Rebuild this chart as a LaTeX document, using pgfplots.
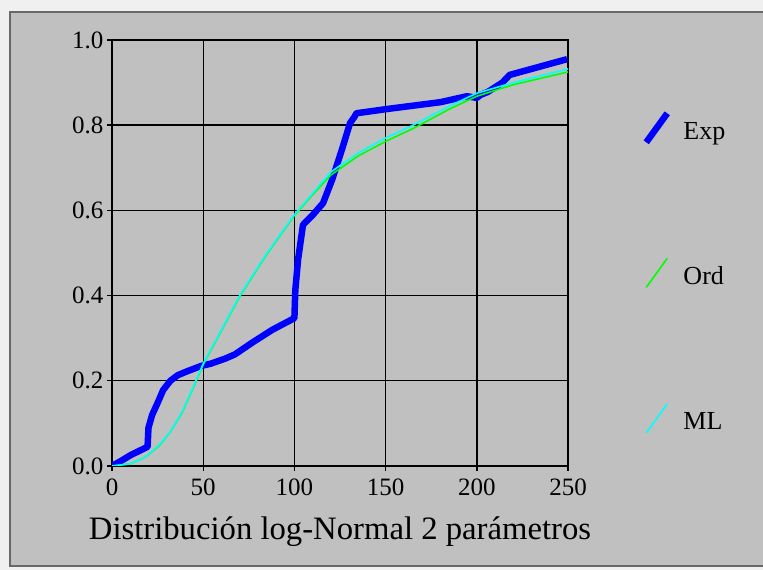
\documentclass[border=0pt]{standalone}
\usepackage{pgfplots}
\pgfplotsset{compat=1.18}
\usepackage{fontspec}
\setmainfont{Liberation Serif}
\definecolor{outerbg}{RGB}{240,240,240}
\definecolor{panel}{RGB}{192,192,192}
\definecolor{panelborder}{RGB}{105,105,105}
\definecolor{expblue}{RGB}{0,0,255}
\definecolor{ordgreen}{RGB}{0,255,0}
\definecolor{mlcyan}{RGB}{0,255,255}
\begin{document}
\begin{tikzpicture}[x=1pt,y=1pt]
\path[use as bounding box, fill=outerbg] (0,0) rectangle (763,570);
\filldraw[fill=panel, draw=panelborder, line width=1.5pt] (10,4) rectangle (775,558);
\begin{axis}[
  at={(112pt,104pt)}, anchor=south west,
  scale only axis, width=456pt, height=426pt,
  xmin=0, xmax=250, ymin=0, ymax=1,
  xtick={0,50,...,250}, ytick={0,0.2,0.4,0.6,0.8,1.0},
  grid=major, grid style={black, line width=1.4pt},
  axis line style={black, line width=1.6pt},
  tick style={black, line width=1.4pt}, tick align=outside, major tick length=5pt,
  tick pos=left,
  /pgf/number format/assume math mode=true,
  yticklabel style={/pgf/number format/.cd, fixed, fixed zerofill, precision=1},
  xticklabel style={yshift=-4pt, /pgf/number format/.cd, fixed, precision=0},
  ticklabel style={font=\fontsize{25}{25}\selectfont, text=black},
  xlabel={Distribución log-Normal 2 parámetros},
  xlabel style={font=\fontsize{32.7}{33}\selectfont, at={(axis description cs:0.5,0)}, anchor=center, yshift=-66pt},
  legend image code/.code={\draw[#1] (0pt,-6pt) -- (21pt,23pt);},
  legend style={draw=none, fill=none, at={(axis description cs:1.164,0.836)}, anchor=north west,
    row sep=105pt, font=\fontsize{26}{26}\selectfont, inner sep=0pt,
    nodes={inner sep=2pt}, /tikz/every odd column/.append style={column sep=11pt}},
  legend cell align=left,
]
\addplot[expblue, line width=6.5pt, line join=round] coordinates {
(0,0) (5,0.012) (10,0.025) (18,0.042) (19.5,0.045) (20,0.09) (22,0.12) (25,0.148)
(28,0.178) (32,0.2) (36,0.213) (41,0.222) (49,0.235) (54,0.24) (62,0.252)
(67.4,0.262) (77,0.29) (88,0.32) (100,0.347) (100.5,0.413) (102,0.484)
(104.7,0.566) (110,0.589) (115.7,0.617) (120.6,0.671) (126,0.742) (130.5,0.805)
(133,0.82) (134,0.828) (150.8,0.838) (180,0.854) (194.6,0.868) (200,0.864)
(202,0.871) (206,0.878) (214,0.90) (218,0.918) (249.5,0.955)
};
\addlegendentry{\raisebox{10pt}{Exp}}
\addplot[ordgreen, line width=1.6pt] coordinates {
(0,0) (10,0.005) (18,0.02) (26,0.048) (32,0.08) (38,0.122) (44,0.178) (50,0.238)
(55,0.278) (60,0.318) (70,0.398) (85,0.498) (100,0.588) (110,0.637) (120,0.683)
(135,0.728) (150,0.762) (165,0.792) (185,0.838) (200,0.868) (220,0.895) (250,0.925)
};
\addlegendentry{\raisebox{10pt}{Ord}}
\addplot[mlcyan, line width=1.6pt] coordinates {
(0,0) (10,0.005) (18,0.02) (26,0.05) (32,0.08) (38,0.124) (44,0.18) (50,0.24)
(55,0.28) (60,0.32) (70,0.40) (85,0.50) (100,0.59) (110,0.64) (120,0.69)
(135,0.735) (150,0.77) (165,0.80) (185,0.845) (200,0.875) (220,0.90) (250,0.932)
};
\addlegendentry{\raisebox{10pt}{ML}}
\end{axis}
\end{tikzpicture}
\end{document}
